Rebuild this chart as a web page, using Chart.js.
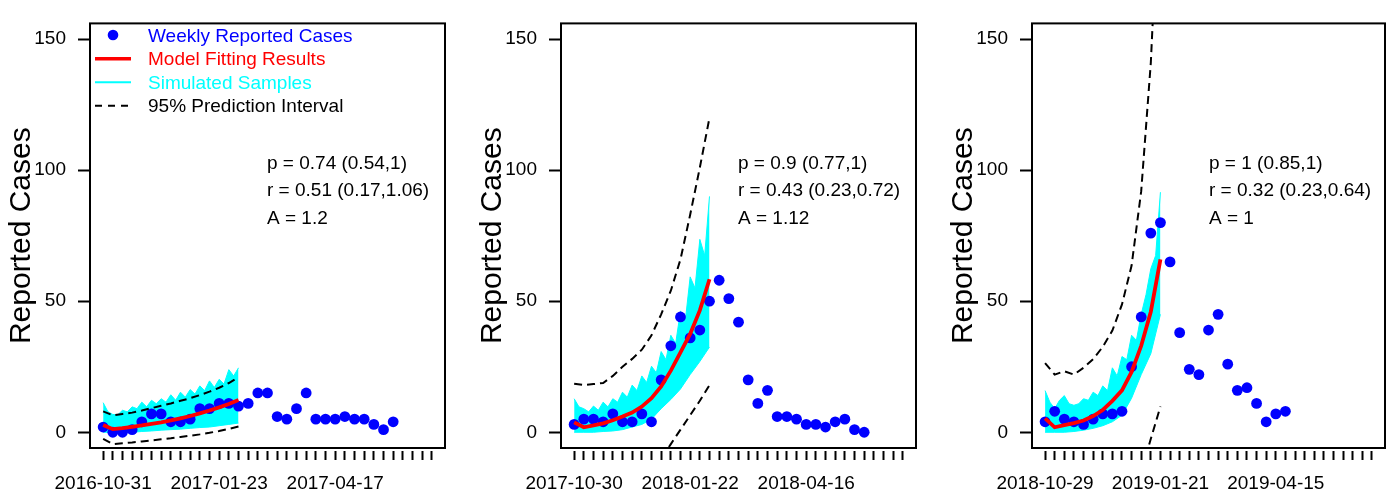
<!DOCTYPE html>
<html><head><meta charset="utf-8">
<script src="https://cdn.jsdelivr.net/npm/chart.js@4.4.1/dist/chart.umd.min.js"></script>
<style>
html,body{margin:0;padding:0;background:#fff;}
#wrap{position:relative;width:1392px;height:496px;overflow:hidden;background:#fff;}
canvas{position:absolute;top:0;}
</style></head><body>
<div id="wrap">
<canvas id="c1" width="471" height="496" style="left:0px"></canvas>
<canvas id="c2" width="471" height="496" style="left:471px"></canvas>
<canvas id="c3" width="450" height="496" style="left:942px"></canvas>
</div>
<script>
// ---------- data ----------
const weekTicks = [0,1,2,3,4,5,6,7,8,9,10,11,12,13,14,15,16,17,18,19,20,21,22,23,24,25,26,27,28,29,30,31,32,33,34];
const yTicks = [0,50,100,150];
const labeledWeeks = [0,12,24];

const p1Labels = ['2016-10-31','2017-01-23','2017-04-17'];
const p2Labels = ['2017-10-30','2018-01-22','2018-04-16'];
const p3Labels = ['2018-10-29','2019-01-21','2019-04-15'];

const p1Cases = [2,0,0,1,4,7,7,4,4,5,9,9,11,11,10,11,15,15,6,5,9,15,5,5,5,6,5,5,3,1,4];
const p2Cases = [3,5,5,4,7,4,4,7,4,20,33,44,36,39,50,58,51,42,20,11,16,6,6,5,3,3,2,4,5,1,0];
const p3Cases = [4,8,5,4,3,5,7,7,8,25,44,76,80,65,38,24,22,39,45,26,16,17,11,4,7,8];

const p1Fit = [2.8,1.2,1.6,2.1,2.6,3.2,3.8,4.5,5.3,6.2,7.2,8.3,9.5,10.8,12.3];
const p2Fit = [3.8,1.9,2.6,3.4,4.6,6,7.5,9.8,13,17.5,23.5,30.5,37.5,46.5,58.4];
const p3Fit = [5.3,1.9,2.7,3.5,4.5,6.2,8.5,12,16,23,33,46,66];

const p1Upper = [8,6.5,7,7.5,8.3,9.2,10.1,11,12,13,14.2,15.5,17,18.8,21];
const p1Lower = [-2.5,-4.5,-4.2,-3.9,-3.5,-3.1,-2.7,-2.3,-1.8,-1.3,-0.8,-0.2,0.5,1.3,2.2];
const p2Upper = [18.5,18,18.4,18.8,21.5,25,28,31.5,37,45,54,66,83,101,120];
const p2Lower = [-16,-17,-17,-16.5,-16,-15,-14,-13,-11.5,-10,-4.5,1,6.5,12,18];
const p3Upper = [26.4,22,23.3,22,24.6,27.9,32.6,38.8,48.8,63.6,92,141,220];
const p3Lower = [-20,-22,-22,-22,-22,-21,-21,-20,-19,-18,-15,-2.5,9.8];

// simulated-sample envelope: top edge read every half week, bottom edge every week
const p1SimTop = [11.3,7.8,6.8,6.6,8.4,7.8,9.7,9,11.5,9.7,12.2,10.9,12.8,11.5,14.3,12.2,15.3,13.4,16.3,14.6,17.7,15.9,19.6,17.1,20.2,18.4,23.9,21.5,24.6];
const p1SimBot = [0,0,0,0,0.3,0.5,0.8,1,1.2,1.5,1.8,2,2.5,3,3.5];
const p2SimTop = [12.8,9.7,9,7.8,10,8.4,11.5,9.7,12.8,11.5,15.3,13.4,18,15.9,21.5,19,25.2,22.7,30.8,27.7,37,33.9,46.3,42.6,59.3,55,73.6,67.4,90];
const p2SimBot = [0,0,0,0.3,0.5,1,2,3,5,9,12.5,16.5,22,27,32.5];
const p3SimTop = [15.9,11.5,9,12.2,14,10.9,10.3,10.9,12.8,12.2,15.3,14,17.7,15.9,24.6,21.5,28.9,27.7,37,35.1,45,52.5,62.4,67.4,91.6];
const p3SimBot = [0,0,0,0.3,0.8,1.5,2.5,4,6.5,13,22,30,45];

const p1Stats = ['p = 0.74 (0.54,1)','r = 0.51 (0.17,1.06)','A = 1.2'];
const p2Stats = ['p = 0.9 (0.77,1)','r = 0.43 (0.23,0.72)','A = 1.12'];
const p3Stats = ['p = 1 (0.85,1)','r = 0.32 (0.23,0.64)','A = 1'];

const legendItems = ['Weekly Reported Cases','Model Fitting Results','Simulated Samples','95% Prediction Interval'];

// ---------- chart ----------
const FAMILY = "'Liberation Sans', Arial, Helvetica, sans-serif";
Chart.defaults.font.family = FAMILY;
Chart.defaults.color = '#000';

const BLUE = '#0000FF', RED = '#FF0000', CYAN = '#00FFFF';
const DASH = [8,5];

const boxPlugin = {
  id: 'box',
  afterDatasetsDraw(chart) {
    const a = chart.chartArea, c = chart.ctx;
    c.save(); c.strokeStyle = '#000'; c.lineWidth = 2;
    c.strokeRect(a.left, a.top, a.right - a.left, a.bottom - a.top);
    c.restore();
  }
};

const statsPlugin = {
  id: 'stats',
  afterDraw(chart, args, opts) {
    if (!opts.lines) return;
    const c = chart.ctx, a = chart.chartArea;
    c.save();
    c.font = '19px ' + FAMILY; c.fillStyle = '#000'; c.textBaseline = 'alphabetic'; c.textAlign = 'left';
    opts.lines.forEach((t, i) => c.fillText(t, a.left + 177, 168.5 + i * 27.5));
    c.restore();
  }
};

const legendPlugin = {
  id: 'customLegend',
  afterDraw(chart, args, opts) {
    if (!opts.show) return;
    const c = chart.ctx;
    c.save();
    c.font = '19px ' + FAMILY; c.textBaseline = 'alphabetic'; c.textAlign = 'left';
    const base = [41.5, 65.2, 88.7, 112.3];
    const colors = [BLUE, RED, CYAN, '#000'];
    const tx = 148, x0 = 95, x1 = 131;
    c.fillStyle = BLUE; c.beginPath(); c.arc(113, base[0] - 6.5, 5.3, 0, Math.PI * 2); c.fill();
    c.strokeStyle = RED; c.lineWidth = 3.5; c.beginPath(); c.moveTo(x0, base[1] - 6.5); c.lineTo(x1, base[1] - 6.5); c.stroke();
    c.strokeStyle = CYAN; c.lineWidth = 2; c.beginPath(); c.moveTo(x0, base[2] - 6.5); c.lineTo(x1, base[2] - 6.5); c.stroke();
    c.strokeStyle = '#000'; c.lineWidth = 2; c.setLineDash([7,6]); c.beginPath(); c.moveTo(x0, base[3] - 6.5); c.lineTo(x1 + 2, base[3] - 6.5); c.stroke();
    c.setLineDash([]);
    legendItems.forEach((t, i) => { c.fillStyle = colors[i]; c.fillText(t, tx, base[i]); });
    c.restore();
  }
};

function pts(arr, step) { return arr.map((v, i) => ({ x: i * step, y: v })); }

function makeChart(id, d) {
  const canvas = document.getElementById(id);
  return new Chart(canvas, {
    type: 'line',
    data: {
      datasets: [
        { data: pts(d.fit, 1), borderColor: RED, borderWidth: 3.8, pointRadius: 0, fill: false, tension: 0 },
        { data: pts(d.upper, 1), borderColor: '#000', borderWidth: 2, borderDash: DASH, pointRadius: 0, fill: false },
        { data: pts(d.lower, 1), borderColor: '#000', borderWidth: 2, borderDash: DASH, pointRadius: 0, fill: false },
        { data: pts(d.cases, 1), showLine: false, pointRadius: 5.4, pointBackgroundColor: BLUE, pointBorderWidth: 0, pointBorderColor: BLUE },
        { data: pts(d.simTop, 0.5), borderColor: CYAN, borderWidth: 1, pointRadius: 0, fill: '+1', backgroundColor: CYAN },
        { data: pts(d.simBot, 1), borderColor: CYAN, borderWidth: 1, pointRadius: 0, fill: false }
      ]
    },
    options: {
      responsive: false, animation: false, events: [],
      layout: { padding: { top: 12, right: d.rightPad, left: 0, bottom: 0 } },
      scales: {
        x: {
          type: 'linear', min: -1.36, max: 35.36,
          afterBuildTicks: s => { s.ticks = weekTicks.map(v => ({ value: v })); },
          afterFit: s => { s.height = 48; },
          border: { display: false },
          grid: { drawOnChartArea: false, drawTicks: true, tickLength: 12, tickColor: '#000', tickWidth: 2, tickBorderDash: [0, 3, 9, 60] },
          ticks: {
            autoSkip: false, maxRotation: 0, minRotation: 0, padding: 12,
            font: { size: 19 }, color: '#000',
            callback: v => { const k = labeledWeeks.indexOf(v); return k >= 0 ? d.labels[k] : ''; }
          }
        },
        y: {
          type: 'linear', min: -6, max: 156,
          afterBuildTicks: s => { s.ticks = yTicks.map(v => ({ value: v })); },
          afterFit: s => { s.width = 90; },
          border: { display: false },
          grid: { drawOnChartArea: false, drawTicks: true, tickLength: 12, tickColor: '#000', tickWidth: 2 },
          ticks: { padding: 12, font: { size: 19 }, color: '#000' },
          title: { display: true, text: 'Reported Cases', font: { size: 30 }, color: '#000', padding: { top: 4, bottom: 0 } }
        }
      },
      plugins: {
        legend: { display: false }, tooltip: { enabled: false },
        stats: { lines: d.stats },
        customLegend: { show: !!d.legend }
      }
    },
    plugins: [boxPlugin, statsPlugin, legendPlugin]
  });
}

makeChart('c1', { cases: p1Cases, fit: p1Fit, upper: p1Upper, lower: p1Lower, simTop: p1SimTop, simBot: p1SimBot, labels: p1Labels, stats: p1Stats, rightPad: 26, legend: true });
makeChart('c2', { cases: p2Cases, fit: p2Fit, upper: p2Upper, lower: p2Lower, simTop: p2SimTop, simBot: p2SimBot, labels: p2Labels, stats: p2Stats, rightPad: 26, legend: false });
makeChart('c3', { cases: p3Cases, fit: p3Fit, upper: p3Upper, lower: p3Lower, simTop: p3SimTop, simBot: p3SimBot, labels: p3Labels, stats: p3Stats, rightPad: 7, legend: false });
</script>
</body></html>
